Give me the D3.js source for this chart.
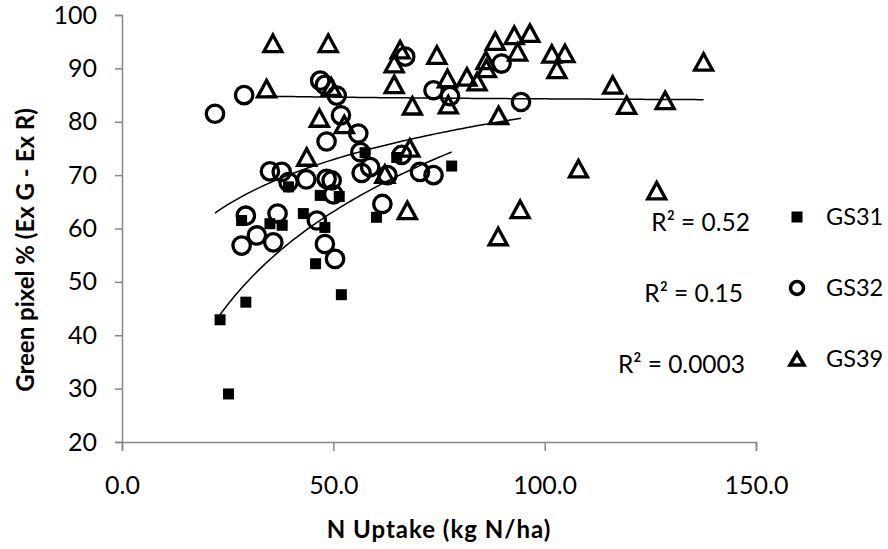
<!DOCTYPE html>
<html>
<head>
<meta charset="utf-8">
<script src="https://cdn.jsdelivr.net/npm/d3@7"></script>
<style>
	body { margin: 0; padding: 0; background: #ffffff; }
	text { font-family: Lato, "Open Sans", sans-serif; fill: #000000; }
</style>
</head>
<body>
<script>
//--------------------------------DATA---------------------------------
// [N uptake (kg N/ha), green pixel %]
var gs31 = [[23.2,42.9],[25.2,29.0],[29.3,46.2],[28.3,61.5],[35.0,60.9],[37.9,60.6],[39.4,67.8],[42.9,62.8],
	[45.8,53.4],[46.9,66.2],[48.0,60.2],[51.4,66.0],[51.9,47.6],[57.5,74.2],[60.2,62.1],[65.0,73.3],[78.0,71.7]];

var gs32 = [[22.0,81.5],[28.9,85.0],[29.3,62.4],[28.3,56.8],[31.9,58.7],[35.8,57.4],[36.8,62.8],[35.0,70.7],
	[37.8,70.6],[39.4,68.7],[43.6,69.2],[46.1,61.5],[48.0,57.1],[50.4,54.3],[48.4,69.3],[49.6,69.0],[50.0,66.4],
	[46.9,87.7],[48.0,86.9],[50.8,84.9],[51.8,81.2],[48.4,76.3],[55.9,77.8],[56.4,74.3],[58.7,71.5],[56.7,70.4],
	[62.8,70.0],[61.6,64.6],[66.2,73.8],[70.5,70.6],[73.7,70.0],[67.0,92.2],[73.7,85.9],[77.6,84.8],[89.8,90.9],[94.4,83.7]];

var gs39 = [[35.7,94.7],[34.2,86.2],[43.7,73.4],[46.7,80.7],[48.8,94.7],[52.6,79.5],[49.5,86.5],[62.2,70.2],
	[64.4,87.0],[64.4,90.9],[65.8,93.5],[67.5,63.4],[68.1,75.1],[68.7,83.0],[74.5,92.5],[77.0,88.1],[77.2,83.2],
	[81.6,88.4],[84.0,87.5],[86.1,91.5],[86.2,90.0],[88.3,95.1],[89.1,81.2],[89.0,58.5],[92.8,96.2],[93.6,93.1],
	[94.2,63.6],[96.5,96.6],[101.7,92.7],[104.8,92.8],[102.9,89.8],[108.0,71.2],[116.1,86.9],[119.4,83.1],
	[126.5,67.1],[128.5,84.0],[137.6,91.2]];

var seriesNames = ["GS31", "GS32", "GS39"];
var rSquaredLabels = ["R² = 0.52", "R² = 0.15", "R² = 0.0003"];
var xTicks = [0, 50, 100, 150];
var yTicks = [20, 30, 40, 50, 60, 70, 80, 90, 100];
var xTitle = "N Uptake (kg N/ha)";
var yTitle = "Green pixel % (Ex G - Ex R)";
//----------------------------------------------------------------------

var chartW = 888, chartH = 549;
var plotLeft = 122, plotRight = 756, plotTop = 15, plotBottom = 442;

var svg = d3.select("body").append("svg")
	.attr("width", chartW)
	.attr("height", chartH);

var x = d3.scaleLinear().domain([0, 150]).range([plotLeft, plotRight]);
var y = d3.scaleLinear().domain([20, 100]).range([plotBottom, plotTop]);

//--------------------------------axes-----------------------------------
var axisColor = "#868686";

var xAxis = svg.append("g")
	.attr("transform", "translate(0," + plotBottom + ")")
	.call(d3.axisBottom(x).tickValues(xTicks).tickFormat(d3.format(".1f")).tickSizeOuter(0).tickSize(9).tickPadding(25));
var yAxis = svg.append("g")
	.attr("transform", "translate(" + plotLeft + ",0)")
	.call(d3.axisLeft(y).tickValues(yTicks).tickSizeOuter(0).tickSize(7).tickPadding(18));

[xAxis, yAxis].forEach(function(ax) {
	ax.select(".domain").attr("stroke", axisColor).attr("stroke-width", 1.5);
	ax.selectAll(".tick line").attr("stroke", axisColor).attr("stroke-width", 1.5);
	ax.selectAll(".tick text")
		.attr("font-family", "Lato, sans-serif")
		.attr("font-size", 25)
		.attr("fill", "#000");
});

svg.append("text")
	.attr("x", (plotLeft + plotRight) / 2)
	.attr("y", 538)
	.attr("text-anchor", "middle")
	.attr("font-size", 24)
	.attr("letter-spacing", 1)
	.attr("font-weight", "bold")
	.text(xTitle);

svg.append("text")
	.attr("transform", "translate(34,250) rotate(-90)")
	.attr("text-anchor", "middle")
	.attr("font-size", 24)
	.attr("font-weight", "bold")
	.text(yTitle);

//--------------------------------markers---------------------------------
function trianglePath(cx, cy, w, h) {
	return "M" + cx + "," + (cy - h / 2) + "L" + (cx + w / 2) + "," + (cy + h / 2) + "L" + (cx - w / 2) + "," + (cy + h / 2) + "Z";
}

function drawMarker(g, kind, cx, cy, big) {
	if (kind === 0) {
		var s = 11;
		g.append("rect").attr("x", cx - s / 2).attr("y", cy - s / 2).attr("width", s).attr("height", s).attr("fill", "#000");
	} else if (kind === 1) {
		g.append("circle").attr("cx", cx).attr("cy", cy).attr("r", big ? 8.7 : 6.5)
			.attr("fill", "none").attr("stroke", "#000").attr("stroke-width", big ? 3.3 : 3.5);
	} else {
		g.append("path").attr("d", big ? trianglePath(cx, cy, 18, 16.5) : trianglePath(cx, cy, 14, 12))
			.attr("fill", "none").attr("stroke", "#000").attr("stroke-width", big ? 3.3 : 3.5)
			.attr("stroke-linejoin", "miter");
	}
}

//--------------------------------log trendline (like Excel)--------------
function logFit(pts) {
	var n = pts.length, sl = 0, sy = 0, sly = 0, sll = 0;
	pts.forEach(function(p) {
		var l = Math.log(p[0]);
		sl += l; sy += p[1]; sly += l * p[1]; sll += l * l;
	});
	var b = (n * sly - sl * sy) / (n * sll - sl * sl);
	var a = (sy - b * sl) / n;
	return function(v) { return a + b * Math.log(v); };
}

var allSeries = [gs31, gs32, gs39];
var plot = svg.append("g");

allSeries.forEach(function(data, k) {
	var g = plot.append("g");
	data.forEach(function(d) {
		drawMarker(g, k, x(d[0]), y(d[1]), true);
	});
});

allSeries.forEach(function(data) {
	var f = logFit(data);
	var ext = d3.extent(data, function(d) { return d[0]; });
	var linePts = d3.range(0, 101).map(function(i) {
		var v = ext[0] + (ext[1] - ext[0]) * i / 100;
		return [v, f(v)];
	});
	plot.append("path")
		.attr("d", d3.line().x(function(d) { return x(d[0]); }).y(function(d) { return y(d[1]); })(linePts))
		.attr("fill", "none")
		.attr("stroke", "#000")
		.attr("stroke-width", 1.5);
});

//--------------------------------legend + R² labels-----------------------
var rowY = [217, 288, 359];
var rLabelRight = [750, 743, 745];

seriesNames.forEach(function(name, k) {
	var lg = svg.append("g");
	drawMarker(lg, k, 797, rowY[k], false);
	lg.append("text")
		.attr("x", 826)
		.attr("y", rowY[k])
		.attr("dy", "0.36em")
		.attr("font-size", 23.5)
		.text(name);
	svg.append("text")
		.attr("x", rLabelRight[k])
		.attr("y", rowY[k] + 5)
		.attr("dy", "0.36em")
		.attr("text-anchor", "end")
		.attr("font-size", 24.5)
		.text(rSquaredLabels[k]);
});
</script>
</body>
</html>
